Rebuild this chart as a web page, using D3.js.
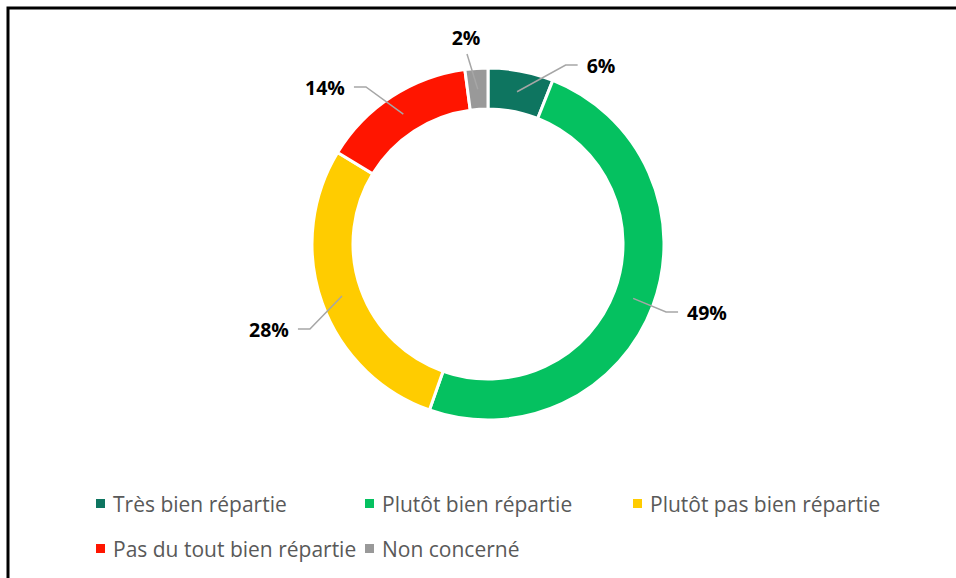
<!DOCTYPE html>
<html><head><meta charset="utf-8">
<script src="https://cdn.jsdelivr.net/npm/d3@7"></script>
<style>body{margin:0;background:#fff}svg{display:block}text{font-variant-ligatures:none}</style>
</head><body>
<svg id="c" width="956" height="578"></svg>
<script>
const categories = ["Très bien répartie","Plutôt bien répartie","Plutôt pas bien répartie","Pas du tout bien répartie","Non concerné"];
const values = [6.0, 49.4, 28.3, 14.2, 2.1];
const labels = ["6%","49%","28%","14%","2%"];
const colors = ["#0E7560","#05C160","#FFCC00","#FF1500","#999999"];
// label layout: text centre offset from donut centre, side of leader
const labelPos = [[113,-179,"r"],[219,68,"r"],[-219,85,"l"],[-163,-157,"l"],[-22,-207,"t"]];

const svg = d3.select("#c");
svg.append("rect").attr("x",8).attr("y",8).attr("width",1000).attr("height",700)
  .attr("fill","none").attr("stroke","#000").attr("stroke-width",3);

const cx = 488, cy = 244, R = 176, r0 = 135;
const g = svg.append("g").attr("transform",`translate(${cx},${cy})`);
const pie = d3.pie().sort(null).value(d=>d)(values);
const arc = d3.arc().innerRadius(r0).outerRadius(R);
const mid = d3.arc().innerRadius(155).outerRadius(155);
g.selectAll("path.s").data(pie).join("path").attr("class","s")
  .attr("d",arc).attr("fill",(d,i)=>colors[i]).attr("stroke","#fff").attr("stroke-width",3);

pie.forEach((d,i)=>{
  const [sx,sy] = mid.centroid(d);
  const [lx,ly,side] = labelPos[i];
  const t = g.append("text").attr("x",lx).attr("y",ly).attr("text-anchor","middle")
    .attr("dominant-baseline","central").attr("font-family","'Open Sans', sans-serif")
    .attr("font-weight","bold").attr("font-size",19.5).attr("fill","#000").text(labels[i]);
  const w = t.node().getComputedTextLength();
  let pts;
  if (side==="r"){ const ex = lx - w/2 - 9; pts=[[sx,sy],[ex-12,ly],[ex,ly]]; }
  else if (side==="l"){ const ex = lx + w/2 + 9; pts=[[sx,sy],[ex+12,ly],[ex,ly]]; }
  else { pts=[[sx,sy],[lx+1,ly+17]]; }
  g.insert("path","text").attr("d",d3.line()(pts)).attr("fill","none")
    .attr("stroke","#A6A6A6").attr("stroke-width",1.5);
});

const leg = [[96,503],[365,503],[633,503],[96,548],[365,548]];
categories.forEach((c,i)=>{
  const [x,y] = leg[i];
  svg.append("rect").attr("x",x).attr("y",y-4).attr("width",9).attr("height",9).attr("fill",colors[i]);
  svg.append("text").attr("x",x+17).attr("y",y+1).attr("dominant-baseline","central")
    .attr("font-family","'Open Sans', sans-serif").attr("font-size",21).attr("fill","#595959").text(c);
});
</script>
</body></html>
